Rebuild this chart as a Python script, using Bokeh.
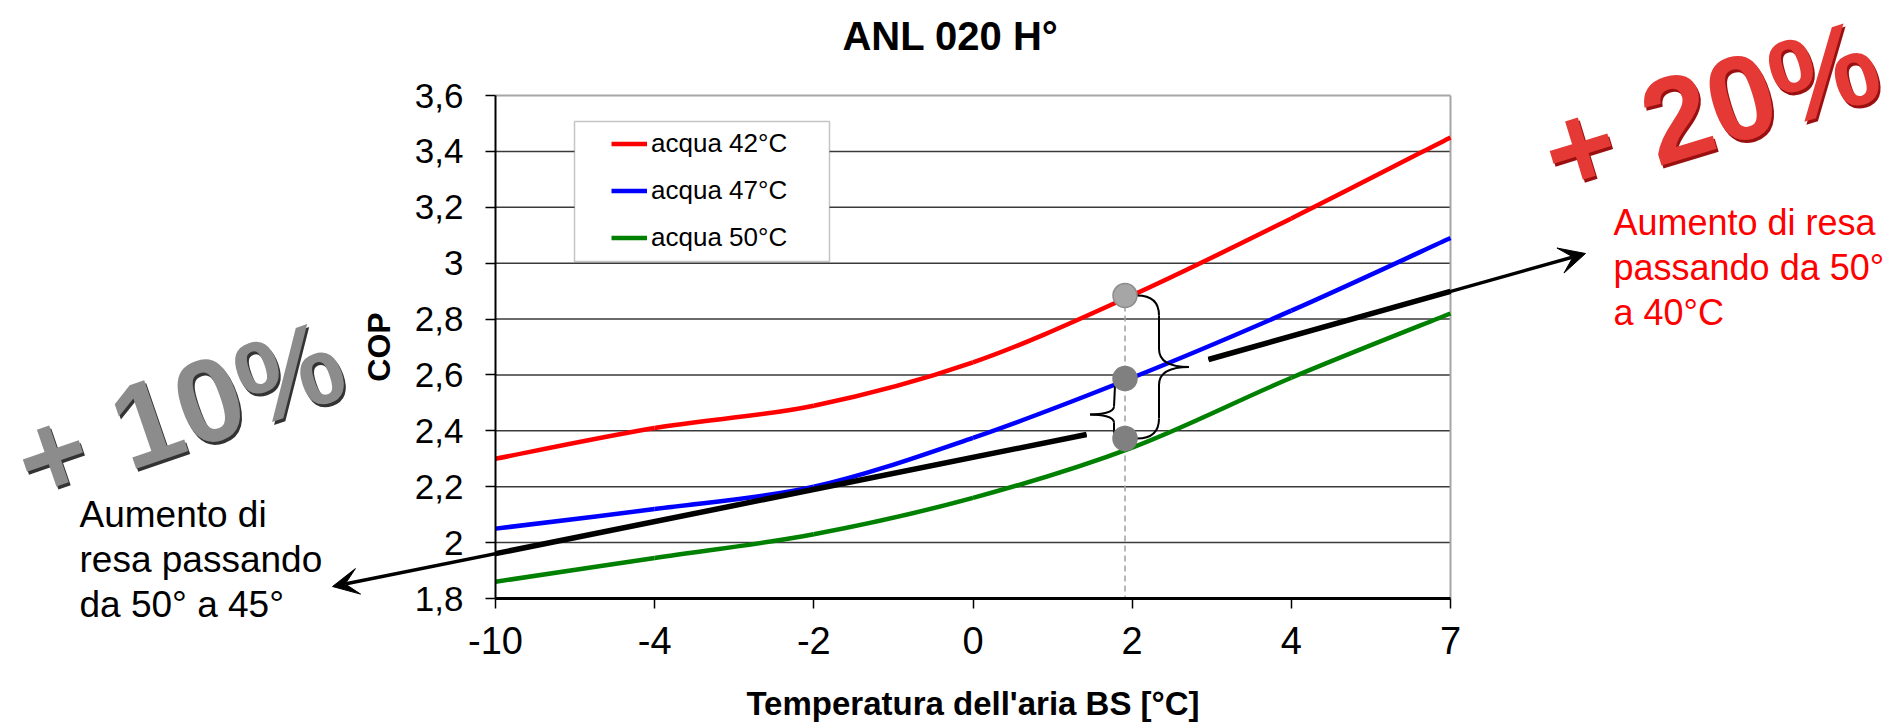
from bokeh.plotting import figure
from bokeh.models import (Range1d, FixedTicker, Legend, LegendItem, Label, Arrow,
                          VeeHead, BoxAnnotation)
from bokeh.embed import file_html
from bokeh.resources import INLINE

# ---------------- data ----------------
x_tick_labels = ["-10", "-4", "-2", "0", "2", "4", "7"]
x_index = [0, 1, 2, 3, 4, 5, 6]
cop_42 = [2.30, 2.41, 2.49, 2.645, 2.885, 3.16, 3.45]
cop_47 = [2.05, 2.12, 2.20, 2.375, 2.59, 2.83, 3.09]
cop_50 = [1.86, 1.945, 2.03, 2.16, 2.34, 2.59, 2.82]
series_labels = ["acqua 42°C", "acqua 47°C", "acqua 50°C"]
series_colors = ["#ff0000", "#0000ff", "#008000"]
y_ticks = [1.8, 2.0, 2.2, 2.4, 2.6, 2.8, 3.0, 3.2, 3.4, 3.6]
y_tick_labels = ["1,8", "2", "2,2", "2,4", "2,6", "2,8", "3", "3,2", "3,4", "3,6"]
marker_x = [3.955, 3.955, 3.955]
marker_y = [2.884, 2.587, 2.373]

# ---------------- layout ----------------
W, H = 1900, 725
OX, OY = 2, 0                                # canvas origin on the page (measured)
FL, FR, FT, FB = 497 - OX, 1452 - OX, 95 - OY, 598 - OY   # plot area (canvas px)
PX = (x_index[-1] - x_index[0]) / (FR - FL)  # data-x per px
PY = (y_ticks[-1] - y_ticks[0]) / (FB - FT)  # data-y per px


def pg(px, py, ox=OX, oy=OY):
    """page pixel -> data coordinates (for free annotations)"""
    return (x_index[0] + (px - ox - FL) * PX, y_ticks[-1] - (py - oy - FT) * PY)


def pgt(px, py):
    """same for text anchors (text is drawn slightly offset from its anchor)"""
    return pg(px, py, 8, 8)


def smooth(xs, ys):
    n = len(xs)
    out = dict(x0=[], y0=[], x1=[], y1=[], cx0=[], cy0=[], cx1=[], cy1=[])
    for i in range(n - 1):
        a = max(i - 1, 0)
        d = min(i + 2, n - 1)
        out["x0"].append(xs[i]); out["y0"].append(ys[i])
        out["x1"].append(xs[i + 1]); out["y1"].append(ys[i + 1])
        out["cx0"].append(xs[i] + (xs[i + 1] - xs[a]) / 6)
        out["cy0"].append(ys[i] + (ys[i + 1] - ys[a]) / 6)
        out["cx1"].append(xs[i + 1] - (xs[d] - xs[i]) / 6)
        out["cy1"].append(ys[i + 1] - (ys[d] - ys[i]) / 6)
    return out


p = figure(width=W, height=H, output_backend="svg", toolbar_location=None, title=None,
           x_range=Range1d(x_index[0] - FL * PX, x_index[-1] + (W - FR) * PX),
           y_range=Range1d(y_ticks[0] - (H - FB) * PY, y_ticks[-1] + FT * PY),
           min_border=0, min_border_left=0, min_border_right=0,
           min_border_top=0, min_border_bottom=0,
           background_fill_color="white", border_fill_color="white",
           outline_line_color=None)

# x axis (fixed inside the full-canvas frame)
xa = p.xaxis[0]
xa.fixed_location = y_ticks[0]
xa.bounds = (x_index[0], x_index[-1])
xa.ticker = FixedTicker(ticks=x_index)
xa.major_label_overrides = {i: lab for i, lab in zip(x_index, x_tick_labels)}
xa.axis_line_color = "black"
xa.axis_line_width = 3
xa.major_tick_in = 0
xa.major_tick_out = 10
xa.major_tick_line_color = "black"
xa.major_tick_line_width = 1.5
xa.minor_tick_line_color = None
xa.major_label_text_font = "Liberation Sans"
xa.major_label_text_font_size = "38px"
xa.major_label_text_color = "black"
xa.major_label_standoff = 18
xa.axis_label = "Temperatura dell'aria BS [°C]"
xa.axis_label_text_font = "Liberation Sans"
xa.axis_label_text_font_style = "bold"
xa.axis_label_text_font_size = "33px"
xa.axis_label_text_color = "black"
xa.axis_label_standoff = 28

# y axis
ya = p.yaxis[0]
ya.fixed_location = x_index[0]
ya.bounds = (y_ticks[0], y_ticks[-1])
ya.ticker = FixedTicker(ticks=y_ticks)
ya.major_label_overrides = {t: lab for t, lab in zip(y_ticks, y_tick_labels)}
ya.axis_line_color = "black"
ya.axis_line_width = 2
ya.major_tick_in = 0
ya.major_tick_out = 10
ya.major_tick_line_color = "black"
ya.major_tick_line_width = 1.5
ya.minor_tick_line_color = None
ya.major_label_text_font = "Liberation Sans"
ya.major_label_text_font_size = "35px"
ya.major_label_text_color = "black"
ya.major_label_standoff = 22
ya.axis_label = "COP"
ya.axis_label_text_font = "Liberation Sans"
ya.axis_label_text_font_style = "bold"
ya.axis_label_text_font_size = "32px"
ya.axis_label_text_color = "black"
ya.axis_label_standoff = 15

p.xgrid.visible = False
p.ygrid.visible = False

# horizontal grid lines + light top/right border of the plot area
inner = y_ticks[1:-1]
p.segment(x0=[x_index[0]] * len(inner), y0=inner, x1=[x_index[-1]] * len(inner), y1=inner,
          line_color="#3a3a3a", line_width=1.5)
p.segment(x0=[x_index[0], x_index[-1]], y0=[y_ticks[-1], y_ticks[0]],
          x1=[x_index[-1], x_index[-1]], y1=[y_ticks[-1], y_ticks[-1]],
          line_color="#a6a6a6", line_width=2)

# series (smoothed like the original spreadsheet chart)
items = []
for ys, name, col in zip([cop_42, cop_47, cop_50], series_labels, series_colors):
    r = p.bezier(**smooth(x_index, ys), line_color=col, line_width=4.5)
    items.append(LegendItem(label=name, renderers=[r]))

# dashed guide
p.segment(x0=[marker_x[0]], y0=[marker_y[0]], x1=[marker_x[0]], y1=[y_ticks[0]],
          line_color="#a0a0a0", line_width=1.5, line_dash="6 4")


# braces
def P(xm, ox, yv, oy):
    return (xm + ox * PX, yv - oy * PY)


def add_brace(segs):
    d = dict(x0=[], y0=[], x1=[], y1=[], cx0=[], cy0=[], cx1=[], cy1=[])
    for s, c0, c1, e in segs:
        d["x0"].append(s[0]); d["y0"].append(s[1])
        d["cx0"].append(c0[0]); d["cy0"].append(c0[1])
        d["cx1"].append(c1[0]); d["cy1"].append(c1[1])
        d["x1"].append(e[0]); d["y1"].append(e[1])
    p.bezier(**d, line_color="black", line_width=2)


xm = marker_x[0]
yt, yb = marker_y[0], marker_y[2]
ym = (yt + yb) / 2
add_brace([
    (P(xm, 12, yt, 0), P(xm, 28, yt, 0), P(xm, 34, yt, 8), P(xm, 34, yt, 20)),
    (P(xm, 34, yt, 20), P(xm, 34, yt, 20), P(xm, 34, ym, -18), P(xm, 34, ym, -18)),
    (P(xm, 34, ym, -18), P(xm, 34, ym, -5), P(xm, 46, ym, 0), P(xm, 64, ym, 0)),
    (P(xm, 64, ym, 0), P(xm, 46, ym, 0), P(xm, 34, ym, 5), P(xm, 34, ym, 18)),
    (P(xm, 34, ym, 18), P(xm, 34, ym, 18), P(xm, 34, yb, -20), P(xm, 34, yb, -20)),
    (P(xm, 34, yb, -20), P(xm, 34, yb, -8), P(xm, 28, yb, 0), P(xm, 12, yb, 0)),
])
ys1, ys2 = marker_y[1], marker_y[2]
ysm = (ys1 + ys2) / 2
add_brace([
    (P(xm, -10, ys1, 7), P(xm, -10, ys1, 7), P(xm, -11, ysm, -2), P(xm, -11, ysm, -2)),
    (P(xm, -11, ysm, -2), P(xm, -11, ysm, 4), P(xm, -24, ysm, 6), P(xm, -35, ysm, 6)),
    (P(xm, -35, ysm, 6), P(xm, -24, ysm, 6), P(xm, -11, ysm, 8), P(xm, -11, ysm, 14)),
    (P(xm, -11, ysm, 14), P(xm, -11, ysm, 14), P(xm, -11, ys2, -8), P(xm, -11, ys2, -8)),
    (P(xm, -11, ys2, -8), P(xm, -11, ys2, -3), P(xm, -9, ys2, -1), P(xm, -6, ys2, -1)),
])

# markers
p.scatter(x=marker_x, y=marker_y, size=24, marker="circle",
          fill_color=["#a6a6a6", "#808080", "#808080"],
          line_color=["#8c8c8c", "#808080", "#808080"], line_width=1.5)

# arrows: thick part inside the plot area, thinner arrow continuing outside
l_start, l_end = pg(1088, 434), pg(334, 586)
r_start, r_end = pg(1210, 359), pg(1587, 253)


def at_x(a, b, xv):
    t = (xv - a[0]) / (b[0] - a[0])
    return (xv, a[1] + t * (b[1] - a[1]))


l_edge = at_x(l_start, l_end, x_index[0])
r_edge = at_x(r_start, r_end, x_index[-1])
for s, e in [(l_start, l_end), (r_start, r_end)]:
    p.add_layout(Arrow(x_start=s[0], y_start=s[1], x_end=e[0], y_end=e[1],
                       line_color="black", line_width=3.5,
                       end=VeeHead(size=26, fill_color="black", line_color="black")))
p.segment(x0=[l_start[0], r_start[0]], y0=[l_start[1], r_start[1]],
          x1=[l_edge[0], r_edge[0]], y1=[l_edge[1], r_edge[1]],
          line_color="black", line_width=5.5)

# legend
bl, bt = pg(576, 121)
br, bb = pg(831, 261)
p.add_layout(BoxAnnotation(left=bl, right=br, top=bt, bottom=bb, fill_color="white",
                           fill_alpha=1, line_color="#404040", line_width=1.5))
legend = Legend(items=items, location=(613 - OX, H - (256 - OY)), padding=0,
                spacing=10, margin=0, glyph_width=36, glyph_height=37, label_height=37,
                label_standoff=4, label_text_font="Liberation Sans",
                label_text_font_size="26px", label_text_color="black",
                border_line_alpha=0, background_fill_alpha=0)
p.add_layout(legend)


def label(px, py, text, **kw):
    x, y = pgt(px, py)
    p.add_layout(Label(x=x, y=y, text=text, **kw))


# title
label(958, 43, "ANL 020 H°", text_font="Liberation Sans", text_font_style="bold",
      text_font_size="40px", text_color="black", text_align="center",
      text_baseline="alphabetic")

for py, t in zip([230, 275, 320], ["Aumento di resa", "passando da 50°", "a 40°C"]):
    label(1621, py, t, text_font="Liberation Sans", text_font_size="36px",
          text_color="#ff0000", text_align="left", text_baseline="alphabetic")
for py, t in zip([522, 567, 612], ["Aumento di", "resa passando", "da 50° a 45°"]):
    label(87, py, t, text_font="Liberation Sans", text_font_size="37px",
          text_color="black", text_align="left", text_baseline="alphabetic")

# big percent badges: dark shadow + coloured face
for (cx, cy, ang, size, t, face, shade) in [
        (1718, 114, 17, "120px", "+ 20%", "#e53935", "#9a1010"),
        (187, 418, 19, "118px", "+ 10%", "#8c8c8c", "#333333")]:
    label(cx + 2, cy + 3, t, text_font="Liberation Sans", text_font_style="bold",
          text_font_size=size, text_color=shade,
          angle=ang, angle_units="deg", text_align="center", text_baseline="middle")
    label(cx, cy, t, text_font="Liberation Sans", text_font_style="bold",
          text_font_size=size, text_color=face,
          angle=ang, angle_units="deg", text_align="center", text_baseline="middle")

open("out.html", "w").write(file_html(p, INLINE))
